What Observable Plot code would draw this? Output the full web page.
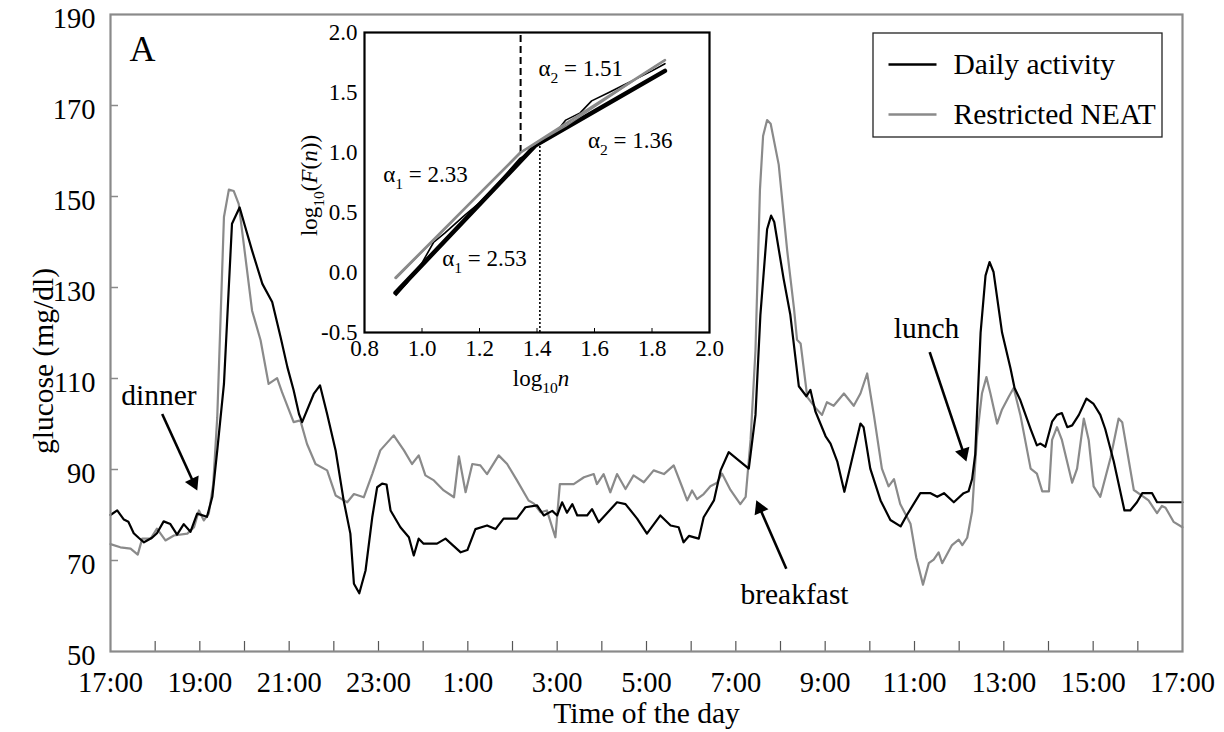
<!DOCTYPE html>
<html><head><meta charset="utf-8">
<script src="https://cdn.jsdelivr.net/npm/d3@7"></script>
<script src="https://cdn.jsdelivr.net/npm/@observablehq/plot@0.6"></script>
<style>
html,body{margin:0;padding:0;background:#fff;}
#wrap{position:relative;width:1224px;height:732px;overflow:hidden;background:#fff;}
#main{position:absolute;left:0;top:0;}
#inset{position:absolute;left:290px;top:20px;}
</style></head><body>
<div id="wrap"><div id="main"></div><div id="inset"></div></div>
<script>
// ---------- data (hours after 17:00, glucose mg/dl) ----------
const dailyT = [0.00,0.15,0.30,0.40,0.52,0.63,0.75,0.93,1.04,1.19,1.34,1.49,1.64,1.79,1.94,2.16,2.28,2.39,2.54,2.72,2.89,3.02,3.17,3.40,3.62,3.81,3.96,4.10,4.22,4.29,4.55,4.69,4.85,5.04,5.22,5.37,5.45,5.57,5.71,5.86,5.97,6.08,6.18,6.27,6.49,6.68,6.79,6.90,7.01,7.31,7.50,7.84,7.99,8.17,8.43,8.62,8.80,9.10,9.29,9.55,9.70,9.89,10.00,10.11,10.22,10.34,10.45,10.67,10.78,10.93,11.34,11.53,11.79,12.01,12.31,12.54,12.72,12.83,12.95,13.17,13.28,13.51,13.66,13.84,14.03,14.29,14.44,14.55,14.70,14.79,14.86,15.07,15.22,15.41,15.58,15.67,15.78,16.01,16.12,16.27,16.43,16.79,16.86,17.01,17.24,17.46,17.69,17.83,18.13,18.36,18.51,18.66,18.88,19.10,19.21,19.29,19.36,19.48,19.59,19.68,19.77,19.96,20.15,20.24,20.37,20.60,20.74,20.82,20.93,21.08,21.19,21.30,21.42,21.53,21.68,21.85,22.01,22.16,22.27,22.46,22.70,22.83,22.98,23.10,23.32,23.43,24.00];
const dailyV = [80,81,79,78.5,76,75,74,75,76,78.6,78,75.7,78,76.3,80.3,79.6,84,94.2,108.8,144,147.6,143.2,138.1,130.8,126.8,119,112.5,107.4,102.2,100.4,106.6,108.5,102.2,94.2,83.2,75.9,64.9,62.8,67.8,79.5,86.1,86.9,86.7,81,77.3,75.1,71.1,74.8,73.7,73.7,74.8,71.8,72.3,76.9,77.7,76.9,79.2,79.2,81.7,82.1,79.9,80.9,79.9,82.8,80.5,82.4,79.9,79.9,81.3,78.4,82.8,82.4,79.2,75.9,79.9,77.7,77.3,74.0,75.4,74.8,79.5,83.2,89.8,93.8,92.3,90.2,102.0,124.0,142.8,145.8,144.4,131.9,124.0,108.3,106.1,107.5,102.8,97.3,95.7,91.8,85.1,100.1,99.3,90.2,83.2,78.9,77.5,80.0,84.8,84.8,84.0,84.8,82.8,84.8,85.2,87.9,93.4,120.1,132.6,135.6,133.4,120.1,112.2,107.9,105.2,98.9,95.3,95.7,95.0,100.5,102.0,102.4,99.3,99.7,102.0,105.6,104.4,102.0,98.9,91.8,81.0,81.0,82.8,84.8,84.8,82.8,82.8];
const neatT = [0.00,0.22,0.45,0.61,0.71,0.90,1.04,1.23,1.42,1.72,1.87,1.98,2.09,2.20,2.30,2.39,2.54,2.65,2.76,2.87,3.02,3.17,3.36,3.54,3.73,3.84,4.10,4.25,4.40,4.59,4.85,5.04,5.30,5.45,5.67,5.86,6.04,6.34,6.57,6.75,6.90,7.05,7.24,7.46,7.69,7.80,7.95,8.10,8.28,8.43,8.69,8.88,9.10,9.36,9.48,9.63,9.77,9.96,10.06,10.37,10.60,10.82,10.89,11.04,11.19,11.34,11.53,11.71,11.94,12.16,12.39,12.61,12.80,12.91,13.02,13.13,13.28,13.43,13.58,13.69,13.88,14.10,14.22,14.33,14.44,14.54,14.61,14.70,14.78,14.96,15.15,15.30,15.37,15.45,15.60,15.78,15.93,16.04,16.19,16.42,16.64,16.79,16.94,17.09,17.27,17.42,17.54,17.68,17.91,18.04,18.19,18.32,18.43,18.54,18.62,18.84,18.99,19.07,19.18,19.29,19.40,19.51,19.61,19.70,19.85,19.96,20.11,20.22,20.37,20.60,20.74,20.86,21.01,21.08,21.19,21.30,21.53,21.64,21.79,21.90,22.01,22.16,22.39,22.57,22.65,22.91,23.13,23.24,23.43,23.54,23.62,23.80,24.00];
const neatV = [73.6,72.9,72.6,71.3,74.8,74.8,77.0,74.4,75.5,75.9,77.3,81.0,78.8,80.3,86.8,101.5,145.5,151.5,151.2,148.4,136.7,124.9,118.4,108.8,110.1,107.0,100.4,100.8,95.6,91.2,89.8,84.3,82.8,84.6,83.9,89.0,94.2,97.5,94.2,91.2,93.1,88.7,87.6,85.4,83.9,92.9,85.0,91.2,90.9,89.0,93.1,91.2,87.6,83.2,82.5,80.6,81.0,75.1,86.8,86.8,88.3,89.0,86.8,89.0,85.0,89.0,85.7,88.7,87.2,89.8,89.0,90.9,86.1,83.2,85.4,83.5,84.6,86.3,87.1,89.1,85.5,82.4,84.0,96.5,116.2,151.5,163.3,166.8,166.0,157.0,138.1,125.6,118.5,117.7,105.9,103.6,102.0,104.8,104.0,106.7,104.0,106.7,111.1,102.0,90.2,86.3,87.9,82.4,78.1,70.6,64.7,69.4,70.2,71.8,69.4,73.4,74.6,73.4,75.0,80.8,97.3,106.7,110.3,106.7,100.1,103.2,106.0,107.9,102.0,90.2,89.1,85.2,85.2,96.5,99.3,96.5,87.1,90.2,101.2,96.5,86.3,84.0,92.6,101.2,100.4,85.5,84.0,83.2,80.4,82.0,81.6,78.5,77.3];
const seriesNames = ["Daily activity", "Restricted NEAT"];
const yTicks = [50,70,90,110,130,150,170,190];
const hourTicks = d3.range(1, 24);
const labelHours = d3.range(0, 25, 2);
const meals = [
  {label: "dinner",    x1: 1.157, y1: 102.2, x2: 1.94,  y2: 85.4},
  {label: "breakfast", x1: 15.13, y1: 68.2,  x2: 14.46, y2: 83.2},
  {label: "lunch",     x1: 18.34, y1: 115.8, x2: 19.16, y2: 91.8}
];
// inset (DFA) data: log10 n vs log10 F(n)
const dailyFitX = [0.908, 1.395, 1.845];
const dailyFitY = [-0.17, 1.06, 1.68];
const neatFitX = [0.908, 1.343, 1.845];
const neatFitY = [-0.044, 1.0, 1.77];
const dailyDfaX = [0.91,0.95,1.0,1.04,1.08,1.15,1.2,1.26,1.3,1.34,1.37,1.40,1.43,1.47,1.50,1.55,1.59,1.65,1.70,1.75,1.80,1.845];
const dailyDfaY = [-0.19,-0.08,0.08,0.25,0.33,0.48,0.58,0.73,0.84,0.95,0.99,1.06,1.10,1.18,1.27,1.33,1.43,1.50,1.56,1.62,1.68,1.74];
const neatDfaX = [0.91,1.0,1.1,1.2,1.3,1.34,1.38,1.42,1.5,1.6,1.7,1.8,1.845];
const neatDfaY = [-0.05,0.17,0.41,0.66,0.9,1.0,1.05,1.11,1.22,1.38,1.54,1.7,1.77];
const alphaLabels = [
  {text: "α_{2} = 1.51", x: 1.405, y: 1.70},
  {text: "α_{2} = 1.36", x: 1.577, y: 1.10},
  {text: "α_{1} = 2.33", x: 0.865, y: 0.817},
  {text: "α_{1} = 2.53", x: 1.07,  y: 0.117}
];
const crossoverDaily = 1.41, crossoverNeat = 1.343;
const insetXTicks = [0.8,1.0,1.2,1.4,1.6,1.8,2.0];
const insetYTicks = [-0.5,0,0.5,1.0,1.5,2.0];

// ---------- layout ----------
const FONT = "'Liberation Serif','Times New Roman',Times,serif";
const FS = 29.5, TFS = 28.5, IFS = 23;
const W = 1224, H = 732, ML = 110, MR = 42, MT = 14, MB = 81;
const kx = (W - ML - MR) / 24, ky = (H - MT - MB) / 140;
const px2t = px => (px - ML) / kx;
const py2v = py => 190 - (py - MT) / ky;
const BLACK = "#000", GRAY = "#8a8a8a";

const daily = dailyT.map((t, i) => ({t, v: dailyV[i]}));
const neat = neatT.map((t, i) => ({t, v: neatV[i]}));
const fmtHour = h => ((17 + h) % 24) + ":00";

// arrows: filled triangular heads
const heads = meals.map(m => {
  const dxp = (m.x2 - m.x1) * kx, dyp = -(m.y2 - m.y1) * ky;
  const len = Math.hypot(dxp, dyp), ux = dxp / len, uy = dyp / len;
  return {
    hx: m.x2 - ux * 8.5 / kx, hy: m.y2 + uy * 8.5 / ky,
    sx: m.x2 - ux * 11 / kx, sy: m.y2 + uy * 11 / ky,
    angle: Math.atan2(ux, -uy) * 180 / Math.PI, ...m
  };
});
const mealText = [
  {label: "dinner", x: px2t(158.5), y: py2v(395)},
  {label: "breakfast", x: px2t(794), y: py2v(594)},
  {label: "lunch", x: px2t(926), y: py2v(328)}
];
const legendItems = seriesNames.map((name, i) => ({name, color: i === 0 ? BLACK : GRAY, y: py2v(i === 0 ? 64 : 114)}));

const main = Plot.plot({
  width: W, height: H, marginLeft: ML, marginRight: MR, marginTop: MT, marginBottom: MB,
  style: {fontFamily: FONT, fontSize: FS + "px", background: "transparent", color: "#000", overflow: "visible"},
  x: {domain: [0, 24]},
  y: {domain: [50, 190]},
  marks: [
    Plot.ruleY(yTicks.slice(1, -1), {x1: 0, x2: 8 / kx, stroke: GRAY, strokeWidth: 1.5}),
    Plot.ruleX(hourTicks, {y1: 50, y2: 50 + 10 / ky, stroke: "#555", strokeWidth: 1.2}),
    Plot.axisX({ticks: labelHours, tickFormat: fmtHour, tickSize: 0, tickPadding: 20, label: null, fontSize: TFS}),
    Plot.axisY({ticks: yTicks, tickSize: 0, tickPadding: 15, dy: 4, label: null, fontSize: TFS}),
    Plot.line(neat, {x: "t", y: "v", stroke: GRAY, strokeWidth: 2.2}),
    Plot.line(daily, {x: "t", y: "v", stroke: BLACK, strokeWidth: 2.2}),
    Plot.link(heads, {x1: "x1", y1: "y1", x2: "sx", y2: "sy", stroke: BLACK, strokeWidth: 2.6}),
    Plot.dot(heads, {x: "hx", y: "hy", symbol: "triangle", r: 5.6, fill: BLACK, stroke: "none", rotate: "angle"}),
    Plot.text(mealText, {x: "x", y: "y", text: "label", fontSize: FS, textAnchor: "middle", lineAnchor: "middle"}),
    Plot.rect([0], {x1: px2t(873), x2: px2t(1162), y1: py2v(33), y2: py2v(137), fill: "white", stroke: "#222", strokeWidth: 1.3}),
    Plot.link(legendItems, {x1: px2t(888), x2: px2t(936), y1: "y", y2: "y", stroke: "color", strokeWidth: 2.4}),
    Plot.text(legendItems, {x: px2t(953), y: "y", text: "name", textAnchor: "start", lineAnchor: "middle", fontSize: FS}),
    Plot.text(["A"], {frameAnchor: "top-left", dx: 32, dy: 35, textAnchor: "middle", lineAnchor: "middle", fontSize: 36}),
    Plot.text(["Time of the day"], {frameAnchor: "bottom", dy: 62, textAnchor: "middle", lineAnchor: "middle", fontSize: FS}),
    Plot.text(["glucose (mg/dl)"], {frameAnchor: "left", dx: -67, dy: 28, rotate: -90, textAnchor: "middle", lineAnchor: "middle", fontSize: FS}),
    Plot.frame({stroke: GRAY, strokeWidth: 2.2})
  ]
});
document.getElementById("main").appendChild(main);

// ---------- inset ----------
const IW = 440, IH = 390, IML = 74, IMT = 12, IMR = 21, IMB = 78;
const iky = (IH - IMT - IMB) / 2.5;
const pts = (xs, ys) => xs.map((x, i) => ({x, y: ys[i]}));
const inset = Plot.plot({
  width: IW, height: IH, marginLeft: IML, marginRight: IMR, marginTop: IMT, marginBottom: IMB,
  style: {fontFamily: FONT, fontSize: IFS + "px", background: "transparent", color: "#000", overflow: "visible"},
  x: {domain: [0.8, 2.0]},
  y: {domain: [-0.5, 2.0]},
  marks: [
    Plot.frame({fill: "white", stroke: "none"}),
    Plot.ruleX(insetXTicks.slice(1, -1), {y1: -0.5, y2: -0.5 + 4 / iky, stroke: BLACK, strokeWidth: 1}),
    Plot.axisX({ticks: insetXTicks, tickFormat: d => d.toFixed(1), tickSize: 0, tickPadding: 7, label: null, fontSize: IFS}),
    Plot.axisY({ticks: insetYTicks, tickFormat: d => d.toFixed(1), tickSize: 0, tickPadding: 7, label: null, fontSize: IFS}),
    Plot.ruleX([crossoverNeat], {y1: 1.0, y2: 2.0, stroke: BLACK, strokeWidth: 2, strokeDasharray: "7,4"}),
    Plot.ruleX([crossoverDaily], {y1: -0.5, y2: 1.1, stroke: BLACK, strokeWidth: 1.6, strokeDasharray: "2,2"}),
    Plot.line(pts(dailyFitX, dailyFitY), {x: "x", y: "y", stroke: BLACK, strokeWidth: 4.5}),
    Plot.line(pts(dailyDfaX, dailyDfaY), {x: "x", y: "y", stroke: BLACK, strokeWidth: 1.6}),
    Plot.line(pts(neatDfaX, neatDfaY), {x: "x", y: "y", stroke: GRAY, strokeWidth: 1.6}),
    Plot.line(pts(neatFitX, neatFitY), {x: "x", y: "y", stroke: GRAY, strokeWidth: 2.6}),
    Plot.text(alphaLabels, {x: "x", y: "y", text: "text", textAnchor: "start", lineAnchor: "middle", fontSize: IFS}),
    Plot.text(["log_{10}*n*"], {frameAnchor: "bottom", dx: 4, dy: 46, textAnchor: "middle", lineAnchor: "middle", fontSize: IFS}),
    Plot.text(["log_{10}(*F*(*n*))"], {frameAnchor: "left", dx: -55, dy: 3, rotate: -90, textAnchor: "middle", lineAnchor: "middle", fontSize: IFS}),
    Plot.frame({stroke: BLACK, strokeWidth: 2.2})
  ]
});
document.getElementById("inset").appendChild(inset);

// rich text: _{sub} and *italic*
function richify(svg) {
  svg.querySelectorAll("text").forEach(t => {
    const s = t.textContent;
    if (!/_\{|\*/.test(s)) return;
    const fs = parseFloat(getComputedStyle(t).fontSize) || IFS;
    const re = /_\{([^}]*)\}|\*([^*]*)\*|([^_*]+)/g;
    let m, html = "", shifted = false;
    while ((m = re.exec(s))) {
      if (m[1] !== undefined) {
        html += `<tspan dy="${(0.3 * fs).toFixed(1)}" font-size="${(0.68 * fs).toFixed(1)}">${m[1]}</tspan>`;
        shifted = true;
      } else {
        const dy = shifted ? ` dy="${(-0.3 * fs).toFixed(1)}"` : "";
        shifted = false;
        if (m[2] !== undefined) html += `<tspan font-style="italic"${dy}>${m[2]}</tspan>`;
        else html += `<tspan${dy}>${m[3]}</tspan>`;
      }
    }
    t.innerHTML = html;
  });
}
richify(inset);
</script>
</body></html>
